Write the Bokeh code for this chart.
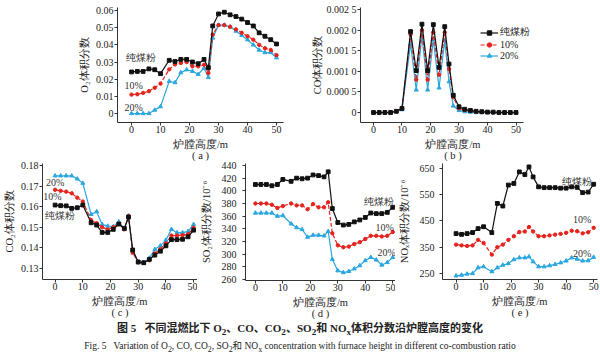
from bokeh.plotting import figure
from bokeh.layouts import column, row
from bokeh.models import FixedTicker, Legend, LegendItem, Label, Div, Range1d
from bokeh.embed import file_html
from bokeh.resources import INLINE

# ---------------- data ----------------
height_m = [0, 2, 4, 6, 8, 10, 13, 15, 17, 19, 21, 23, 25, 26.5, 28, 30, 32, 34, 36, 38, 40, 42, 44, 46, 48, 50]
series_names = ["纯煤粉", "10%", "20%"]

o2_coal = [0.0242, 0.0245, 0.0245, 0.026, 0.0255, 0.0232, 0.031, 0.0303, 0.0315, 0.0315, 0.030, 0.029, 0.0315, 0.0267,
           0.051, 0.058, 0.059, 0.0575, 0.0565, 0.055, 0.053, 0.051, 0.047, 0.045, 0.043, 0.0405]
o2_10 = [0.011, 0.0112, 0.012, 0.013, 0.015, 0.0174, 0.0257, 0.0286, 0.0294, 0.030, 0.0275, 0.0275, 0.0284, 0.0236,
         0.046, 0.0515, 0.0515, 0.0505, 0.049, 0.047, 0.045, 0.043, 0.040, 0.038, 0.037, 0.034]
o2_20 = [0.0, 0.0, 0.0, 0.0, 0.002, 0.004, 0.0188, 0.018, 0.0238, 0.0255, 0.0246, 0.0228, 0.0265, 0.021,
         0.044, 0.0515, 0.0515, 0.0505, 0.048, 0.0455, 0.043, 0.040, 0.037, 0.0355, 0.0355, 0.0325]

co_coal = [0, 0, 0, 0, 0.00003, 0.0001, 0.00197, 0.00102, 0.00215, 0.00102, 0.00214, 0.0011, 0.00209, 0.00118,
           0.00042, 0.00014, 0.00008, 0.00005, 0.00003, 0.00002, 0.00001, 0.00001, 0, 0, 0, 0]
co_10 = [0, 0, 0, 0, 0.00003, 0.00009, 0.0019, 0.0008, 0.002, 0.0008, 0.00195, 0.00092, 0.00195, 0.00106,
         0.00037, 0.0001, 0.00006, 0.00004, 0.00002, 0.00001, 0.00001, 0, 0, 0, 0, 0]
co_20 = [0, 0, 0, 0, 0.00002, 0.00007, 0.00167, 0.00055, 0.00187, 0.00055, 0.00177, 0.0006, 0.00175, 0.00075,
         0.00016, 0.00005, 0.00002, 0.00001, 0, 0, 0, 0, 0, 0, 0, 0]

co2_coal = [0.1608, 0.1605, 0.1604, 0.1592, 0.1595, 0.1608, 0.1522, 0.1511, 0.1475, 0.1475, 0.149, 0.1516, 0.1495, 0.155,
            0.139, 0.1332, 0.1328, 0.1344, 0.1365, 0.1384, 0.141, 0.144, 0.144, 0.1442, 0.1454, 0.1486]
co2_10 = [0.1682, 0.1677, 0.1673, 0.1665, 0.1644, 0.1625, 0.1535, 0.152, 0.150, 0.149, 0.150, 0.1516, 0.149, 0.1555,
          0.1376, 0.133, 0.1328, 0.134, 0.1373, 0.1394, 0.1422, 0.146, 0.146, 0.1462, 0.1466, 0.1498]
co2_20 = [0.175, 0.175, 0.175, 0.175, 0.1735, 0.1714, 0.1563, 0.1576, 0.1514, 0.1506, 0.1503, 0.1527, 0.149, 0.1555,
          0.139, 0.1328, 0.1328, 0.135, 0.1393, 0.141, 0.1438, 0.149, 0.1474, 0.1474, 0.148, 0.1514]

so2_coal = [410, 410, 410, 408, 410, 418, 415, 420, 419, 420, 425, 424, 422, 430,
            372, 350, 346, 347, 351, 354, 358, 365, 364, 364, 366, 374]
so2_10 = [380, 380, 380, 378, 373, 376, 380, 377, 377, 371, 379, 374, 374, 382,
          333, 314, 311, 312, 316, 319, 324, 329, 329, 328, 329, 335]
so2_20 = [365, 365, 365, 365, 360, 361, 348, 342, 339, 327, 330, 330, 329, 336,
          292, 274, 271, 273, 277, 282, 290, 295, 291, 283, 287, 295]

nox_coal = [402, 399, 402, 406, 421, 428, 406, 517, 507, 587, 593, 637, 627, 656,
            618, 580, 577, 577, 577, 575, 575, 580, 578, 558, 560, 590]
nox_10 = [360, 357, 355, 357, 378, 366, 322, 350, 360, 378, 392, 408, 410, 427,
          410, 392, 392, 395, 398, 401, 405, 413, 411, 403, 407, 424]
nox_20 = [241, 244, 248, 250, 272, 276, 257, 272, 282, 288, 303, 310, 310, 314,
          295, 276, 276, 280, 285, 291, 298, 310, 305, 298, 299, 312]

x_ticks = [0, 10, 20, 30, 40, 50]
o2_ticks = [0, 0.01, 0.02, 0.03, 0.04, 0.05, 0.06]
o2_labels = ["0", "0.01", "0.02", "0.03", "0.04", "0.05", "0.06"]
co_ticks = [0, 0.0005, 0.001, 0.0015, 0.002, 0.0025]
co_labels = ["0", "0.000 5", "0.001 0", "0.001 5", "0.002 0", "0.002 5"]
co2_ticks = [0.13, 0.14, 0.15, 0.16, 0.17, 0.18]
co2_labels = ["0.13", "0.14", "0.15", "0.16", "0.17", "0.18"]
so2_ticks = [260, 280, 300, 320, 340, 360, 380, 400, 420, 440]
nox_ticks = [250, 350, 450, 550, 650]

# ---------------- style ----------------
SERIF = "Liberation Serif"
BLACK = "#111111"
RED = "#e5231b"
BLUE = "#2aa7df"
AXIS = "#333333"


def make_fig(width, frame_h, xr, yr, mbl, mbr, mbt, mbb, ylabel, yticks, ylabels, tag,
             ystand, ylabstand=1, xbounds=None):
    p = figure(width=width, frame_height=frame_h, x_range=Range1d(*xr), y_range=Range1d(*yr),
               output_backend="svg", toolbar_location=None,
               min_border_left=mbl, min_border_right=mbr, min_border_top=mbt, min_border_bottom=mbb)
    p.outline_line_color = None
    p.grid.visible = False
    p.border_fill_color = None
    p.background_fill_color = None
    for ax in (p.xaxis[0], p.yaxis[0]):
        ax.axis_line_color = AXIS
        ax.axis_line_width = 1
        ax.major_tick_line_color = AXIS
        ax.major_tick_out = 3
        ax.major_tick_in = 0
        ax.minor_tick_line_color = None
        ax.major_label_text_font = SERIF
        ax.major_label_text_font_size = "10px"
        ax.major_label_text_color = "#222222"
        ax.major_label_text_line_height = 1.0
        ax.axis_label_text_font = SERIF
        ax.axis_label_text_font_size = "10.5px"
        ax.axis_label_text_font_style = "normal"
        ax.axis_label_text_color = "#222222"
        ax.axis_label_text_line_height = 1.05
    p.xaxis[0].major_label_standoff = 0
    p.xaxis[0].axis_label_standoff = 3
    p.yaxis[0].major_label_standoff = ylabstand
    p.yaxis[0].axis_label_standoff = ystand
    p.xaxis[0].ticker = FixedTicker(ticks=x_ticks)
    p.xaxis[0].axis_label = "炉膛高度/m\n" + tag
    if xbounds is not None:
        p.xaxis[0].bounds = xbounds
    p.yaxis[0].ticker = FixedTicker(ticks=yticks)
    if ylabels is not None:
        p.yaxis[0].major_label_overrides = {t: l for t, l in zip(yticks, ylabels)}
    p.yaxis[0].axis_label = ylabel
    return p


def add_series(p, ys):
    r3l = p.line(height_m, ys[2], color=BLUE, line_width=1.2)
    r3m = p.scatter(height_m, ys[2], marker="triangle", size=4.0, color=BLUE)
    r2l = p.line(height_m, ys[1], color=RED, line_width=1.2, line_dash="4 2")
    r2m = p.scatter(height_m, ys[1], marker="circle", size=3.4, color=RED)
    r1l = p.line(height_m, ys[0], color=BLACK, line_width=1.2)
    r1m = p.scatter(height_m, ys[0], marker="square", size=3.8, color=BLACK)
    return [[r1l, r1m], [r2l, r2m], [r3l, r3m]]


def add_text(p, x, y, text):
    p.add_layout(Label(x=x, y=y, text=text, text_font=SERIF, text_font_size="10px",
                       text_color="#333333", text_align="center", text_baseline="middle"))


# (a) O2  -- frame x 117..283, y 7..122
pa = make_fig(290, 115, (-4.83, 52.4), (-0.00524, 0.06175), 117, 7, 7, 38,
              "O₂体积分数", o2_ticks, o2_labels, "( a )", 3)
add_series(pa, [o2_coal, o2_10, o2_20])
add_text(pa, 3.1, 0.0327, series_names[0])
add_text(pa, 0.7, 0.0164, series_names[1])
add_text(pa, 0.7, 0.0036, series_names[2])

# (b) CO  -- frame x 360..545 (axis drawn to 522), y 7..122
pb = make_fig(310, 115, (-4.56, 60.35), (-0.000243, 0.002556), 70, 55, 7, 38,
              "CO体积分数", co_ticks, co_labels, "( b )", 1, xbounds=(-4.56, 52.5))
rb = add_series(pb, [co_coal, co_10, co_20])
leg = Legend(items=[LegendItem(label=series_names[i], renderers=rb[i]) for i in range(3)],
             location=(120, 61), orientation="vertical")
leg.padding = 0
leg.margin = 0
leg.spacing = 0
leg.label_height = 11
leg.glyph_height = 11
leg.glyph_width = 18
leg.label_standoff = 2
leg.label_text_font = SERIF
leg.label_text_font_size = "10px"
leg.label_text_color = "#222222"
leg.background_fill_alpha = 0
leg.border_line_alpha = 0
pb.add_layout(leg, "center")

# (c) CO2 -- frame x 37..197, y 165..281
pc = make_fig(197, 116, (-4.55, 51.4), (0.12466, 0.18097), 37, 0, 5, 38,
              "CO₂体积分数", co2_ticks, co2_labels, "( c )", 3)
add_series(pc, [co2_coal, co2_10, co2_20])
add_text(pc, 0.0, 0.1717, series_names[2])
add_text(pc, -1.0, 0.165, series_names[1])
add_text(pc, 1.8, 0.1557, series_names[0])

# (d) SO2 -- frame x 243..395, y 164..281
pd_ = make_fig(198, 117, (-3.6, 51.0), (258.5, 443.1), 46, 0, 4, 38,
               "SO₂体积分数/10⁻⁶", so2_ticks, None, "( d )", 7, ylabstand=6)
add_series(pd_, [so2_coal, so2_10, so2_20])
add_text(pd_, 45.0, 383.7, series_names[0])
add_text(pd_, 47.1, 341.4, series_names[1])
add_text(pd_, 47.8, 302.3, series_names[2])

# (e) NOx -- frame x 437..597, y 165..281
pe = make_fig(205, 116, (-4.93, 51.4), (227.1, 669.0), 42, 3, 5, 38,
              "NOₓ体积分数/10⁻⁶", nox_ticks, None, "( e )", 7, ylabstand=5)
add_series(pe, [nox_coal, nox_10, nox_20])
add_text(pe, 44.0, 600.5, series_names[0])
add_text(pe, 45.8, 455.7, series_names[1])
add_text(pe, 45.8, 326.0, series_names[2])

cap_cn = Div(text=("<div style=\"width:600px;text-align:center;font-family:'Liberation Serif','Noto Sans CJK SC',serif;"
                   "font-size:11px;font-weight:bold;color:#222;line-height:14px;padding-top:4px;\">"
                   "图 5&nbsp;&nbsp;&nbsp;不同混燃比下 O<sub>2</sub>、CO、CO<sub>2</sub>、SO<sub>2</sub>和 NO<sub>x</sub>"
                   "体积分数沿炉膛高度的变化</div>"),
             width=600, height=20, margin=(-4, 0, 0, 0))
cap_en = Div(text=("<div style=\"width:600px;text-align:center;font-family:'Liberation Serif','Noto Sans CJK SC',serif;"
                   "font-size:9.5px;color:#222;line-height:14px;\">"
                   "Fig. 5&nbsp;&nbsp;&nbsp;Variation of O<sub>2</sub>, CO, CO<sub>2</sub>, SO<sub>2</sub>和 NO<sub>x</sub> "
                   "concentration with furnace height in different co-combustion ratio</div>"),
             width=600, height=14, margin=0)

top_row = row(pa, pb, spacing=0)
bottom_row = row(pc, pd_, pe, spacing=0, margin=(-6, 0, 0, 0))
layout = column(top_row, bottom_row, cap_cn, cap_en, spacing=0)

open("out.html", "w").write(file_html(layout, INLINE))
